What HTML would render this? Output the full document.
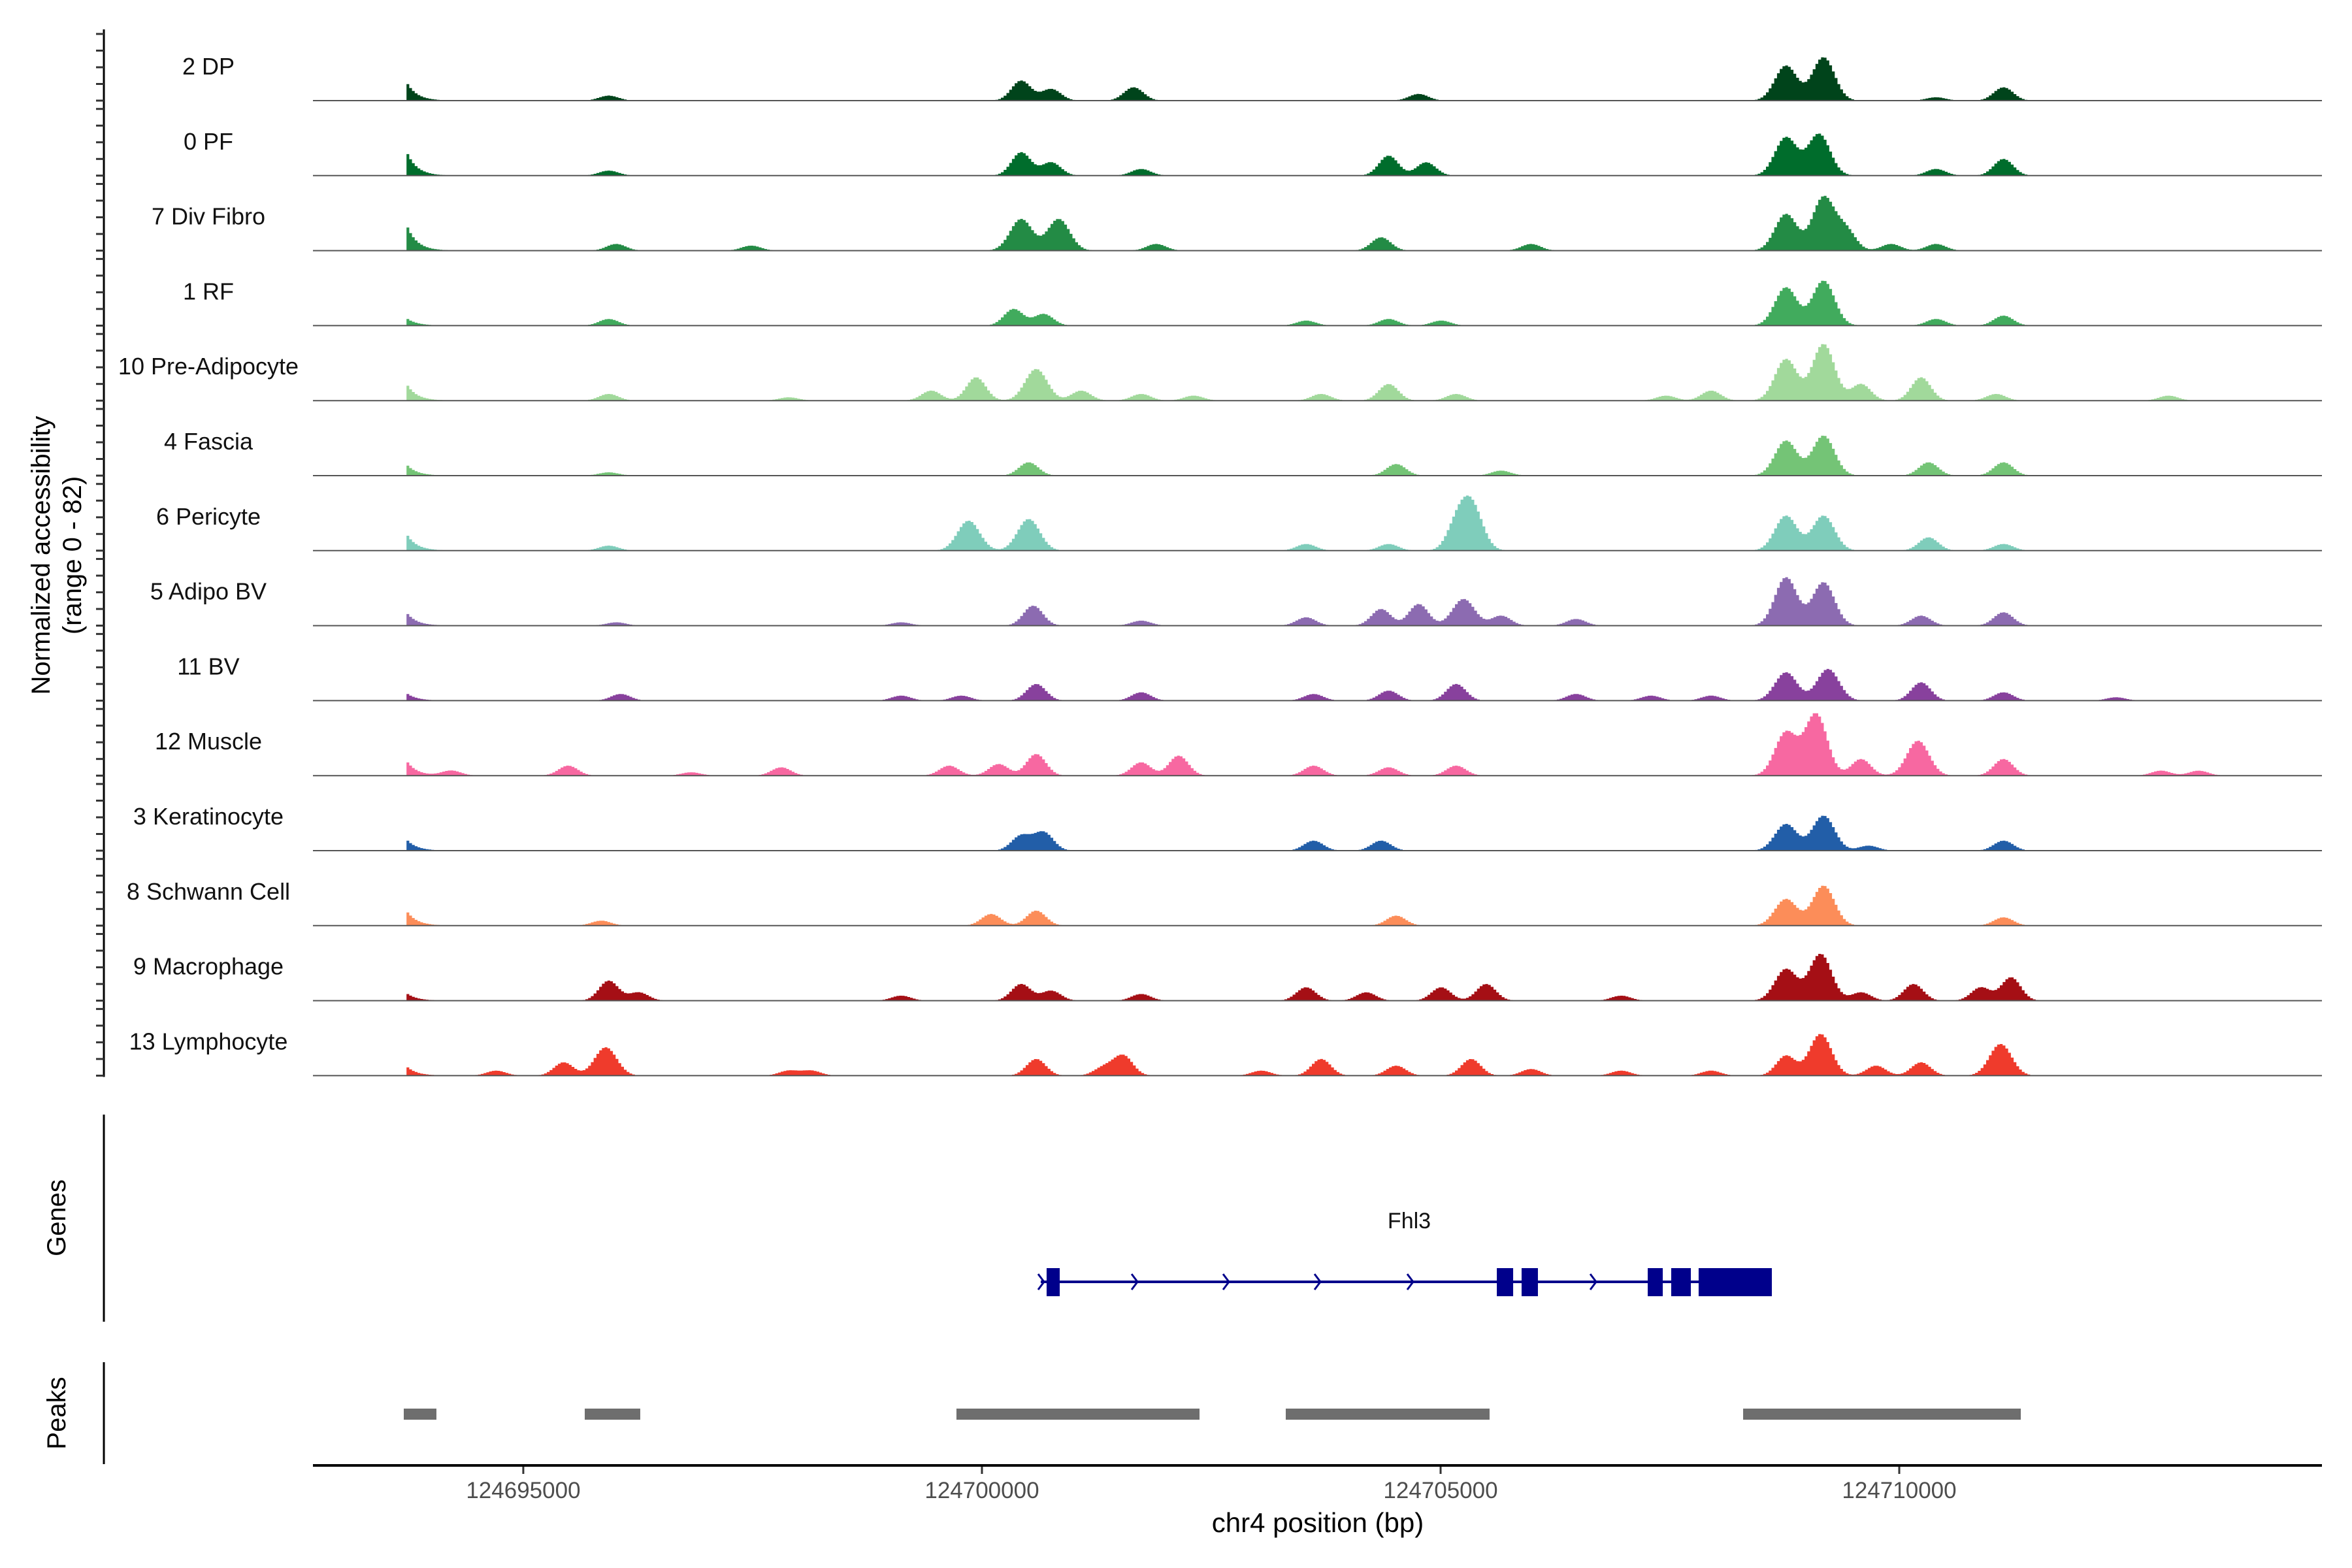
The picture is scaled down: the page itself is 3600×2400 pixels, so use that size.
<!DOCTYPE html>
<html><head><meta charset="utf-8"><style>
html,body{margin:0;padding:0;background:#fff;}
svg{display:block;font-family:"Liberation Sans",sans-serif;}
</style></head><body>
<svg id="chart" width="3600" height="2400" viewBox="0 0 3600 2400" xmlns="http://www.w3.org/2000/svg">
<rect width="3600" height="2400" fill="#fff"/>
<g id="tracks"></g>
<g id="yaxis"></g>
<text transform="translate(76,850) rotate(-90)" text-anchor="middle" font-size="40" fill="#000">Normalized accessibility</text>
<text transform="translate(124,850) rotate(-90)" text-anchor="middle" font-size="40" fill="#000">(range 0 - 82)</text>
<line x1="159" y1="1706" x2="159" y2="2023" stroke="#000" stroke-width="3"/>
<text transform="translate(100,1864) rotate(-90)" text-anchor="middle" font-size="40" fill="#000">Genes</text>
<line x1="159" y1="2085" x2="159" y2="2241" stroke="#000" stroke-width="3"/>
<text transform="translate(100,2163) rotate(-90)" text-anchor="middle" font-size="40" fill="#000">Peaks</text>
<g id="gene"></g>
<g id="peaks"></g>
<g id="xaxis"></g>
<text x="2017" y="2345" text-anchor="middle" font-size="42" fill="#000">chr4 position (bp)</text>
</svg>
<script>
const NS="http://www.w3.org/2000/svg";
const anchor=124700000;
const trackNames=["2 DP","0 PF","7 Div Fibro","1 RF","10 Pre-Adipocyte","4 Fascia","6 Pericyte","5 Adipo BV","11 BV","12 Muscle","3 Keratinocyte","8 Schwann Cell","9 Macrophage","13 Lymphocyte"];
const trackColors=["#00441b","#006d2c","#238b45","#41ab5d","#a1d99b","#74c476","#7fcdbb","#8c6bb1","#88419d","#f768a1","#225ea8","#fc8d59","#a50f15","#ef3b2c"];
// peak positions (bp offset from anchor) and heights (range 0-82)
const posDP=[-6274,-4083,413,740,1639,4746,8751,9160,10387,11122];
const htDP=[20,6,24,14,16,8,42,52,4,16];
const posPF=[-6274,-4083,413,740,1721,4419,4828,8751,9111,10387,11122];
const htPF=[26,6,28,16,8,24,16,46,50,8,20];
const posDiv=[-6274,-4002,-2530,413,822,1885,4337,5972,8751,9160,9406,9896,10387];
const htDiv=[28,8,6,38,38,8,16,8,44,64,24,8,8];
const posRF=[-6274,-4083,331,658,3520,4419,4991,8751,9160,10387,11122];
const htRF=[8,8,20,14,6,8,6,46,54,8,12];
const posPre=[-6274,-4083,-2121,-568,-78,577,1067,1721,2293,3683,4419,5155,7444,7934,8751,9160,9569,10223,11041,12921];
const htPre=[18,8,4,12,28,38,12,8,6,8,20,8,6,12,50,68,20,28,8,6];
const posFas=[-6274,-4083,495,4501,5645,8751,9160,10305,11122];
const htFas=[12,4,16,14,6,42,48,16,16];
const posPer=[-6274,-4083,-160,495,3520,4419,5155,5318,8751,9160,10305,11122];
const htPer=[18,6,36,38,8,8,26,56,42,42,16,8];
const posAdi=[-6274,-4002,-895,544,1721,3520,4337,4746,5236,5645,6463,8751,9160,10223,11122];
const htAdi=[14,4,4,24,6,10,20,26,32,12,8,58,52,12,16];
const posBV=[-6274,-3953,-895,-241,577,1721,3601,4419,5155,6463,7280,7934,8751,9209,10223,11122,12349];
const htBV=[8,8,6,6,20,10,8,12,20,8,6,6,34,38,22,10,4];
const posMus=[-6274,-5800,-4525,-3184,-2203,-372,168,577,1721,2130,3601,4419,5155,8751,9079,9569,10190,11122,12839,13248];
const htMus=[16,6,12,4,10,12,14,26,16,24,12,10,12,52,74,20,42,20,6,6];
const posKer=[-6274,413,658,3601,4337,8751,9160,9650,11122];
const htKer=[12,18,22,12,12,32,42,6,12];
const posSch=[-6274,-4165,86,577,4501,8751,9160,11122];
const htSch=[16,6,14,18,12,32,48,10];
const posMac=[-6274,-4083,-3757,-895,413,740,1721,3520,4174,4991,5482,6953,8751,9128,9569,10141,10877,11204];
const htMac=[8,24,10,6,20,12,8,16,10,16,20,6,38,56,10,20,16,28];
const posLym=[-6274,-5310,-4574,-4116,-2121,-1876,577,1312,1525,3029,3683,4501,5318,5972,6953,7934,8751,9128,9733,10223,11090];
const htLym=[10,6,16,34,6,6,20,10,24,6,20,12,20,8,6,6,24,50,12,16,38];
const trackPos=[posDP,posPF,posDiv,posRF,posPre,posFas,posPer,posAdi,posBV,posMus,posKer,posSch,posMac,posLym];
const trackHt=[htDP,htPF,htDiv,htRF,htPre,htFas,htPer,htAdi,htBV,htMus,htKer,htSch,htMac,htLym];
const xTicks=[124695000,124700000,124705000,124710000];
const peakStarts=[124693697,124695670,124699722,124703312,124708298];
const peakEnds=[124694053,124696275,124702372,124705534,124711325];
const exonStarts=[124700705,124705613,124705883,124707258,124707514,124707813];
const exonEnds=[124700848,124705791,124706061,124707422,124707728,124708611];
const geneStart=124700641, geneEnd=124708611;
const chevrons=[124701660,124702657,124703654,124704665,124706660];

const X0=479,X1=3554;
const bp0=124692707,bp1=124714608;
function xs(bp){return X0+(bp-bp0)/(bp1-bp0)*(X1-X0);}
const base0=154,trackStep=114.8,unitPx=104.6/82;
function ys(i,v){return base0+trackStep*i-v*unitPx;}

const tg=document.getElementById('tracks');
const ya=document.getElementById('yaxis');
function mk(tag,attrs,parent){const e=document.createElementNS(NS,tag);for(const k in attrs)e.setAttribute(k,attrs[k]);parent.appendChild(e);return e;}

const axl=mk('line',{x1:159,y1:45,x2:159,y2:base0+trackStep*13+2,stroke:'#000','stroke-width':3},ya);



const binBp=30;
for(let i=0;i<trackNames.length;i++){
  const g=mk('g',{},tg);
  
  
  const pos=trackPos[i],ht=trackHt[i];
  let d='M'+xs(bp0)+' '+ys(i,0);
  for(let b=bp0;b<=bp1;b+=binBp){
    let v=0;
    for(let k=0;k<pos.length;k++){
      const p=anchor+pos[k];
      const dd=b-p;
      if(pos[k]===-6274){ if(dd<0){continue;} v+=ht[k]*Math.exp(-dd/110); continue;}
      const s=ht[k]>30?120:105;
      v+=ht[k]*Math.exp(-dd*dd/(2*s*s));
    }
    if(v>82)v=82;
    if(v<0.6)v=0;
    const x=xs(b),x2=xs(b+binBp),y=ys(i,v);
    d+='L'+x.toFixed(1)+' '+y.toFixed(1)+'L'+x2.toFixed(1)+' '+y.toFixed(1);
  }
  d+='L'+xs(bp1)+' '+ys(i,0)+'Z';
  const area=mk('path',{d:d,fill:trackColors[i]},g);
  
  
  const bl=mk('line',{x1:X0,x2:X1,y1:ys(i,0),y2:ys(i,0),stroke:'#555','stroke-width':2},g);
  
  
  const lb=mk('text',{x:319,y:ys(i,0)-40,'text-anchor':'middle','font-size':36,fill:'#111'},g);
  lb.textContent=trackNames[i];
  
  
  for(let k=0;k<=4;k++){
    const yy=ys(i,k*20);
    const t=mk('line',{x1:147,x2:159,y1:yy,y2:yy,stroke:'#333','stroke-width':3},ya);
    
    
  }
}

// gene
const gg=document.getElementById('gene');
const gl=mk('line',{x1:xs(geneStart),x2:xs(geneEnd),y1:1962,y2:1962,stroke:'#00008b','stroke-width':4},gg);


for(let k=0;k<exonStarts.length;k++){
  const r=mk('rect',{x:xs(exonStarts[k]),y:1941,width:xs(exonEnds[k])-xs(exonStarts[k]),height:43,fill:'#00008b'},gg);
  
  
}
[geneStart].concat(chevrons).forEach(c=>{
  const x=xs(c);
  const p=mk('path',{d:`M${x-4} 1950 L${x+5} 1962 L${x-4} 1974`,fill:'none',stroke:'#00008b','stroke-width':3},gg);
  
  
});
const gn=mk('text',{x:2157,y:1880,'text-anchor':'middle','font-size':34,fill:'#111'},gg);
gn.textContent='Fhl3';



// peaks
const pg=document.getElementById('peaks');
for(let k=0;k<peakStarts.length;k++){
  const r=mk('rect',{x:xs(peakStarts[k]),y:2156,width:xs(peakEnds[k])-xs(peakStarts[k]),height:17,fill:'#6e6e6e'},pg);
  
  
}

// x axis
const xa=document.getElementById('xaxis');
const xl=mk('line',{x1:X0,x2:X1,y1:2243,y2:2243,stroke:'#000','stroke-width':4},xa);


xTicks.forEach(t=>{
  const x=xs(t);
  const tl=mk('line',{x1:x,x2:x,y1:2245,y2:2256,stroke:'#333','stroke-width':3},xa);
  
  
  const tx=mk('text',{x:x,y:2293,'text-anchor':'middle','font-size':35,fill:'#4d4d4d'},xa);
  tx.textContent=String(t);
  
  
});
</script>
</body></html>
